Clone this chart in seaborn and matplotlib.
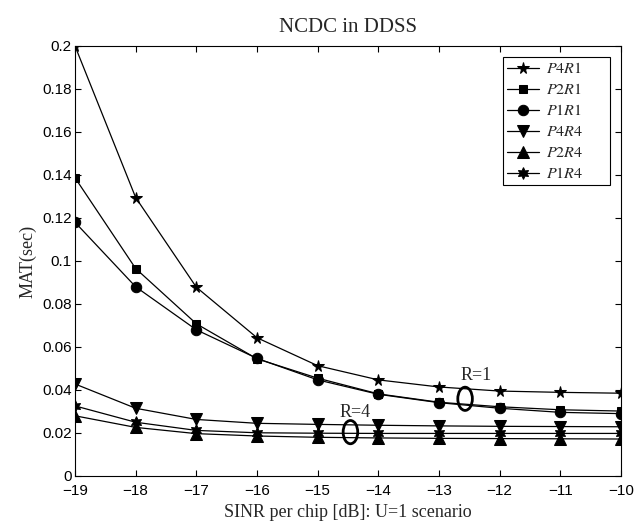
import matplotlib
matplotlib.use("Agg")
import matplotlib.pyplot as plt
from matplotlib.patches import Ellipse
import seaborn as sns

sinr = [-19, -18, -17, -16, -15, -14, -13, -12, -11, -10]

p4r1 = [0.200, 0.1295, 0.0878, 0.0643, 0.0513, 0.0447, 0.0414, 0.0395, 0.0389, 0.0385]
p2r1 = [0.1387, 0.0965, 0.0708, 0.0545, 0.0455, 0.0382, 0.0343, 0.0322, 0.0308, 0.0302]
p1r1 = [0.1180, 0.0880, 0.0680, 0.0547, 0.0447, 0.0380, 0.0341, 0.0315, 0.0296, 0.0290]
p4r4 = [0.0428, 0.0315, 0.0263, 0.0245, 0.0240, 0.0236, 0.0233, 0.0231, 0.0230, 0.0229]
p2r4 = [0.0280, 0.0226, 0.0197, 0.0186, 0.0180, 0.0177, 0.0175, 0.0174, 0.0173, 0.0172]
p1r4 = [0.0326, 0.0250, 0.0212, 0.0201, 0.0199, 0.0198, 0.0198, 0.0198, 0.0198, 0.0198]

series = [
    ("$P4R1$", p4r1, "*", 8.5),
    ("$P2R1$", p2r1, "s", 6),
    ("$P1R1$", p1r1, "o", 7.5),
    ("$P4R4$", p4r4, "v", 8),
    ("$P2R4$", p2r4, "^", 8),
    ("$P1R4$", p1r4, (6, 1, 0), 8.5),
]

sns.set_theme(style="ticks")
plt.rcParams["mathtext.fontset"] = "stix"
plt.rcParams["font.family"] = ["Liberation Sans", "DejaVu Sans"]

fig = plt.figure(figsize=(6.34, 5.29), dpi=100)
ax = fig.add_axes([0.1183, 0.1002, 0.8612, 0.8129])

for label, vals, mk, ms in series:
    sns.lineplot(x=sinr, y=vals, ax=ax, color="black", marker=mk, markersize=ms,
                 markeredgecolor="black", linewidth=0.9, label=label)

ax.set_xlim(-19, -10)
ax.set_ylim(0, 0.2)
ax.set_xticks(range(-19, -9))
ax.set_xticklabels([f"\u2212{abs(v)}" for v in range(-19, -9)])
ax.set_yticks([0, 0.02, 0.04, 0.06, 0.08, 0.1, 0.12, 0.14, 0.16, 0.18, 0.2])
ax.set_yticklabels(["0", "0.02", "0.04", "0.06", "0.08", "0.1", "0.12", "0.14",
                    "0.16", "0.18", "0.2"])
ax.tick_params(direction="in", top=True, right=True, length=4.5, width=0.8,
               labelsize=11, colors="black")
ax.tick_params(axis="x", pad=6)
ax.tick_params(axis="y", pad=2.5)
for sp in ax.spines.values():
    sp.set_visible(True)
    sp.set_color("black")
    sp.set_linewidth(0.8)

serif = ["Liberation Serif", "DejaVu Serif"]
ax.set_title("NCDC in DDSS", family=serif, fontsize=15, pad=10)
ax.set_xlabel("SINR per chip [dB]: U=1 scenario", family=serif, fontsize=13, labelpad=4)
ax.set_ylabel("MAT(sec)", family=serif, fontsize=13, labelpad=4)

# annotations for groups
ax.text(-12.38, 0.0467, "R=1", family=serif, fontsize=13, ha="center", va="center")
ax.add_patch(Ellipse((-12.57, 0.0359), 0.24, 0.0108, fill=False, lw=2.0, ec="black"))
ax.text(-14.38, 0.0297, "R=4", family=serif, fontsize=13, ha="center", va="center")
ax.add_patch(Ellipse((-14.46, 0.0204), 0.24, 0.0108, fill=False, lw=2.0, ec="black"))

leg = ax.legend(loc="upper left", mode="expand", frameon=True, fancybox=False,
                edgecolor="black", fontsize=11.5, handlelength=2.0, handletextpad=0.45,
                borderpad=0.25, labelspacing=0.38, borderaxespad=0,
                bbox_to_anchor=(0.784, 0.0, 0.196, 0.974))
leg.get_frame().set_linewidth(0.8)
leg.get_frame().set_alpha(1)

fig.savefig("out.png", dpi=100)
